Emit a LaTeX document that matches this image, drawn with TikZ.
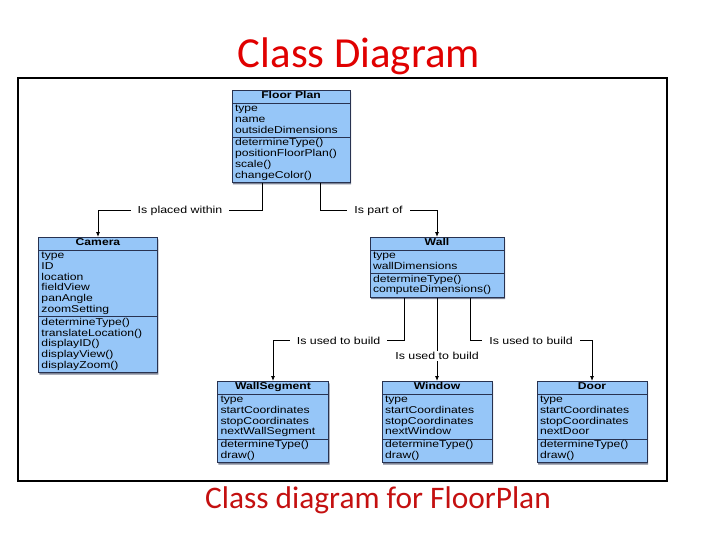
\documentclass[tikz,border=0pt]{standalone}
\usepackage{fontspec}
\setmainfont{Liberation Sans}
\newfontfamily\umlfont[FakeStretch=1.22]{Liberation Sans}
\newfontfamily\slidefont{Carlito}
\usetikzlibrary{arrows.meta,shapes.multipart,shadows}
\definecolor{ClassFill}{HTML}{96C6F8}
\definecolor{ClassEdge}{HTML}{283250}
\definecolor{TitleRed}{HTML}{E00000}
\definecolor{CapRed}{HTML}{C41010}
\newcommand\umlhead[1]{\strut\hfill\textbf{#1}\hfill\null}

\begin{document}
\begin{tikzpicture}[x=1bp,y=-1bp,>={Latex[length=5pt,width=4pt]},
    umlclass/.style={rectangle split,rectangle split parts=3,draw=ClassEdge,fill=ClassFill,
      line width=.8pt,text width=#1,align=left,inner xsep=3bp,inner ysep=.6bp,anchor=north,
      font=\umlfont\fontsize{10}{10.8}\selectfont,
      drop shadow={shadow xshift=1pt,shadow yshift=-2pt,opacity=.6,fill=ClassEdge}},
    rel/.style={line width=.8pt,->},
    lbl/.style={fill=white,inner xsep=7bp,inner ysep=1bp,font=\umlfont\fontsize{10.2}{12}\selectfont}]
  \useasboundingbox (0,0) rectangle (720,540);
  \node[anchor=base,text=TitleRed,font=\slidefont\fontsize{43}{50}\selectfont] (title) at (359,68) {Class Diagram};
  \draw[line width=1.5pt] (18,78) rectangle (667,481);
  % classes
  \node[umlclass=112bp] (fp) at (291,90) {\umlhead{Floor Plan}
    \nodepart{two}\strut type\\name\\outsideDimensions\strut
    \nodepart{three}\strut determineType()\\positionFloorPlan()\\scale()\\changeColor()\strut};
  \node[umlclass=113bp] (cam) at (98,237) {\umlhead{Camera}
    \nodepart{two}\strut type\\ID\\location\\fieldView\\panAngle\\zoomSetting\strut
    \nodepart{three}\strut determineType()\\translateLocation()\\displayID()\\displayView()\\displayZoom()\strut};
  \node[umlclass=128bp] (wall) at (437,237) {\umlhead{Wall}
    \nodepart{two}\strut type\\wallDimensions\strut
    \nodepart{three}\strut determineType()\\computeDimensions()\strut};
  \node[umlclass=105bp] (ws) at (273,381) {\umlhead{WallSegment}
    \nodepart{two}\strut type\\startCoordinates\\stopCoordinates\\nextWallSegment\strut
    \nodepart{three}\strut determineType()\\draw()\strut};
  \node[umlclass=104bp] (win) at (437,381) {\umlhead{Window}
    \nodepart{two}\strut type\\startCoordinates\\stopCoordinates\\nextWindow\strut
    \nodepart{three}\strut determineType()\\draw()\strut};
  \node[umlclass=104bp] (door) at (592,381) {\umlhead{Door}
    \nodepart{two}\strut type\\startCoordinates\\stopCoordinates\\nextDoor\strut
    \nodepart{three}\strut determineType()\\draw()\strut};
  % relations
  \draw[rel] ([xshift=-29bp]fp.south) -- ++(0,28) -| node[lbl,pos=.25]{Is placed within} (cam.north);
  \draw[rel] ([xshift=29bp]fp.south) -- ++(0,28) -| node[lbl,pos=.25]{Is part of} (wall.north);
  \draw[rel] ([xshift=-33bp]wall.south) -- ++(0,43) -| node[lbl,pos=.25]{Is used to build} (ws.north);
  \draw[rel] (wall.south) -- node[lbl,pos=.7]{Is used to build} (wall.south |- win.north);
  \draw[rel] ([xshift=33bp]wall.south) -- ++(0,43) -| node[lbl,pos=.25]{Is used to build} (door.north);
  \node[anchor=base,text=CapRed,font=\slidefont\fontsize{31.5}{36}\selectfont] (caption) at (378,508) {Class diagram for FloorPlan};
\end{tikzpicture}
\end{document}
